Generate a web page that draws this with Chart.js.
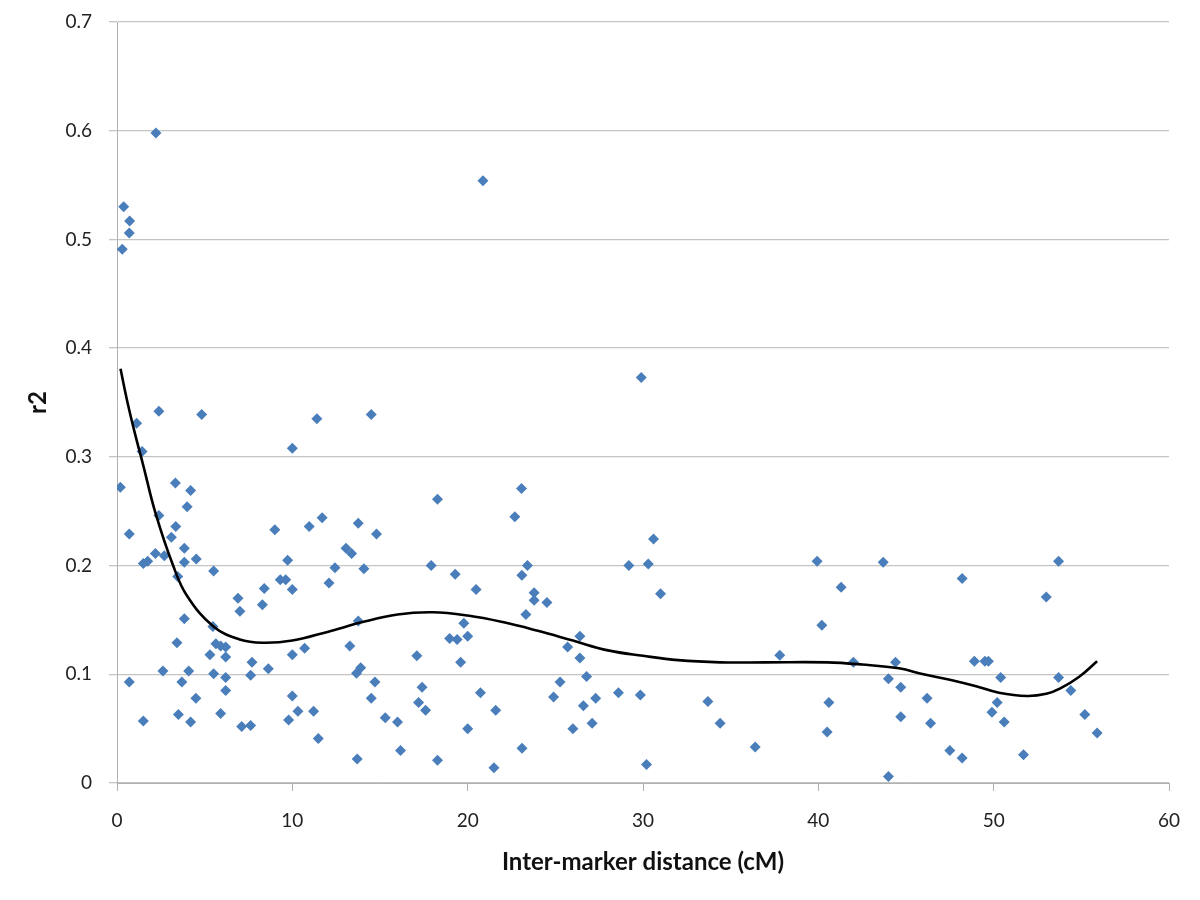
<!DOCTYPE html>
<html><head><meta charset="utf-8">
<script src="https://cdn.jsdelivr.net/npm/chart.js@4/dist/chart.umd.min.js"></script>
<style>html,body{margin:0;padding:0;background:#fff}#c{display:block}</style>
</head><body>
<canvas id="c" width="1200" height="900"></canvas>
<script>
// Inter-marker distance (cM) of each marker pair
const distX = [
  0.38,0.72,0.70,0.30,2.22,
  2.39,4.83,1.12,11.4,1.43,10.0,0.19,3.33,4.2,4.0,2.39,0.70,3.35,3.1,11.7,10.96,9.0,13.76,
  2.19,2.7,3.84,1.5,1.75,3.84,4.52,13.06,13.38,9.73,3.46,5.51,12.43,9.31,9.62,10.0,12.09,8.4,
  6.9,7.01,8.29,3.84,5.47,13.76,3.42,5.64,5.91,6.2,5.3,6.2,7.7,10.0,10.7,13.28,8.63,2.62,4.09,
  0.7,3.7,5.51,6.2,7.62,13.66,13.9,6.2,4.5,10.0,1.5,3.5,4.2,5.91,7.11,7.62,9.79,10.32,11.21,11.48,13.7,
  14.5,18.28,23.07,22.69,14.8,14.08,17.92,19.29,20.48,23.41,23.09,23.79,23.79,24.52,23.32,29.19,
  19.78,18.97,19.4,20.0,17.1,19.6,26.4,25.7,26.4,14.71,14.5,17.4,17.2,17.6,20.73,21.6,25.27,26.78,
  24.9,26.6,27.3,28.6,29.85,15.3,16.0,20.0,26.0,27.1,16.17,23.1,18.28,21.5,20.87,
  29.9,30.6,30.3,31.0,39.93,41.3,40.2,43.7,37.8,42.0,44.4,44.0,44.7,44.7,33.7,34.4,36.4,40.6,40.5,30.2,44.0,
  53.7,48.2,53.0,48.9,49.5,49.7,50.4,53.7,46.2,50.2,54.4,49.9,50.6,55.2,46.4,55.9,47.5,48.2,51.7
];
// r2 values of each marker pair
const r2Y = [
  0.530,0.517,0.506,0.491,0.598,
  0.342,0.339,0.331,0.335,0.305,0.308,0.272,0.276,0.269,0.254,0.246,0.229,0.236,0.226,0.244,0.236,0.233,0.239,
  0.211,0.209,0.216,0.202,0.204,0.203,0.206,0.216,0.211,0.205,0.190,0.195,0.198,0.187,0.187,0.178,0.184,0.179,
  0.170,0.158,0.164,0.151,0.144,0.149,0.129,0.128,0.126,0.125,0.118,0.116,0.111,0.118,0.124,0.126,0.105,0.103,0.103,
  0.093,0.093,0.1005,0.097,0.099,0.101,0.106,0.085,0.078,0.080,0.057,0.063,0.056,0.064,0.052,0.053,0.058,0.066,0.066,0.041,0.022,
  0.339,0.261,0.271,0.245,0.229,0.197,0.200,0.192,0.178,0.200,0.191,0.175,0.168,0.166,0.155,0.200,
  0.147,0.133,0.132,0.135,0.117,0.111,0.135,0.125,0.115,0.093,0.078,0.088,0.074,0.067,0.083,0.067,0.093,0.098,
  0.079,0.071,0.078,0.083,0.081,0.060,0.056,0.050,0.050,0.055,0.030,0.032,0.021,0.014,0.554,
  0.373,0.2245,0.2015,0.174,0.204,0.180,0.145,0.203,0.1175,0.111,0.111,0.096,0.088,0.061,0.075,0.055,0.033,0.074,0.047,0.017,0.006,
  0.204,0.188,0.171,0.112,0.112,0.112,0.097,0.097,0.078,0.074,0.085,0.065,0.056,0.063,0.055,0.046,0.030,0.023,0.026
];
// Polynomial trend line
const trendX = [0.2,0.6,1.0,1.5,2.2,3.2,4.0,5.5,7,8.3,10,12,14,16,18,20,22,24,26,28,30,32,34.4,37,40.5,42.5,44.6,46,47.5,49,50.3,51.9,53,53.8,54.9,55.9];
const trendY = [0.381,0.350,0.323,0.292,0.248,0.200,0.172,0.144,0.132,0.129,0.131,0.139,0.148,0.155,0.157,0.154,0.148,0.140,0.131,0.122,0.117,0.113,0.111,0.111,0.111,0.109,0.1055,0.100,0.095,0.089,0.083,0.080,0.082,0.087,0.098,0.112];
const xTicks = [0,10,20,30,40,50,60];
const yTicks = [0,0.1,0.2,0.3,0.4,0.5,0.6,0.7];

const points = distX.map((x,i)=>({x:x,y:r2Y[i]}));
const trend = trendX.map((x,i)=>({x:x,y:trendY[i]}));

Chart.defaults.font.family = "Lato, 'Open Sans', sans-serif";
Chart.defaults.color = '#222';

new Chart(document.getElementById('c'), {
  type: 'scatter',
  data: {
    datasets: [
      { type:'line', data: trend, borderColor:'#000', borderWidth:2.6, pointRadius:0, tension:0.4, fill:false },
      { data: points, pointStyle:'rectRot', pointRadius:5.5, backgroundColor:'#4A7EBB', borderColor:'#4A7EBB', borderWidth:0 }
    ]
  },
  options: {
    responsive:false, animation:false, devicePixelRatio:1,
    layout:{ padding:{ top:22, right:31, bottom:0, left:0 } },
    plugins:{ legend:{display:false}, tooltip:{enabled:false} },
    scales:{
      x:{
        type:'linear', min:0, max:60,
        afterBuildTicks: s => { s.ticks = xTicks.map(v=>({value:v})); },
        afterFit: s => { s.height = 117; },
        ticks:{ font:{size:19}, padding:18, maxRotation:0, color:'#222' },
        grid:{ drawOnChartArea:false, drawTicks:true, tickLength:8, color:'#b0b0b0' },
        border:{ color:'#b0b0b0', width:1 },
        title:{ display:true, text:'Inter-marker distance (cM)', font:{size:24, weight:'bold'}, color:'#111', padding:{top:0,bottom:23} }
      },
      y:{
        type:'linear', min:0, max:0.7,
        afterBuildTicks: s => { s.ticks = yTicks.map(v=>({value:v})); },
        afterFit: s => { s.width = 117; s.paddingTop = 0; s.paddingBottom = 0; },
        ticks:{ font:{size:19}, padding:17, color:'#222', callback: v => Number(v.toFixed(1)).toString() },
        grid:{ drawTicks:true, tickLength:8, color:'#c4c4c4', lineWidth:1.3 },
        border:{ color:'#b0b0b0', width:1 },
        title:{ display:true, text:'r2', font:{size:24, weight:'bold'}, color:'#111', padding:{top:24,bottom:0} }
      }
    }
  }
});
</script>
</body></html>
